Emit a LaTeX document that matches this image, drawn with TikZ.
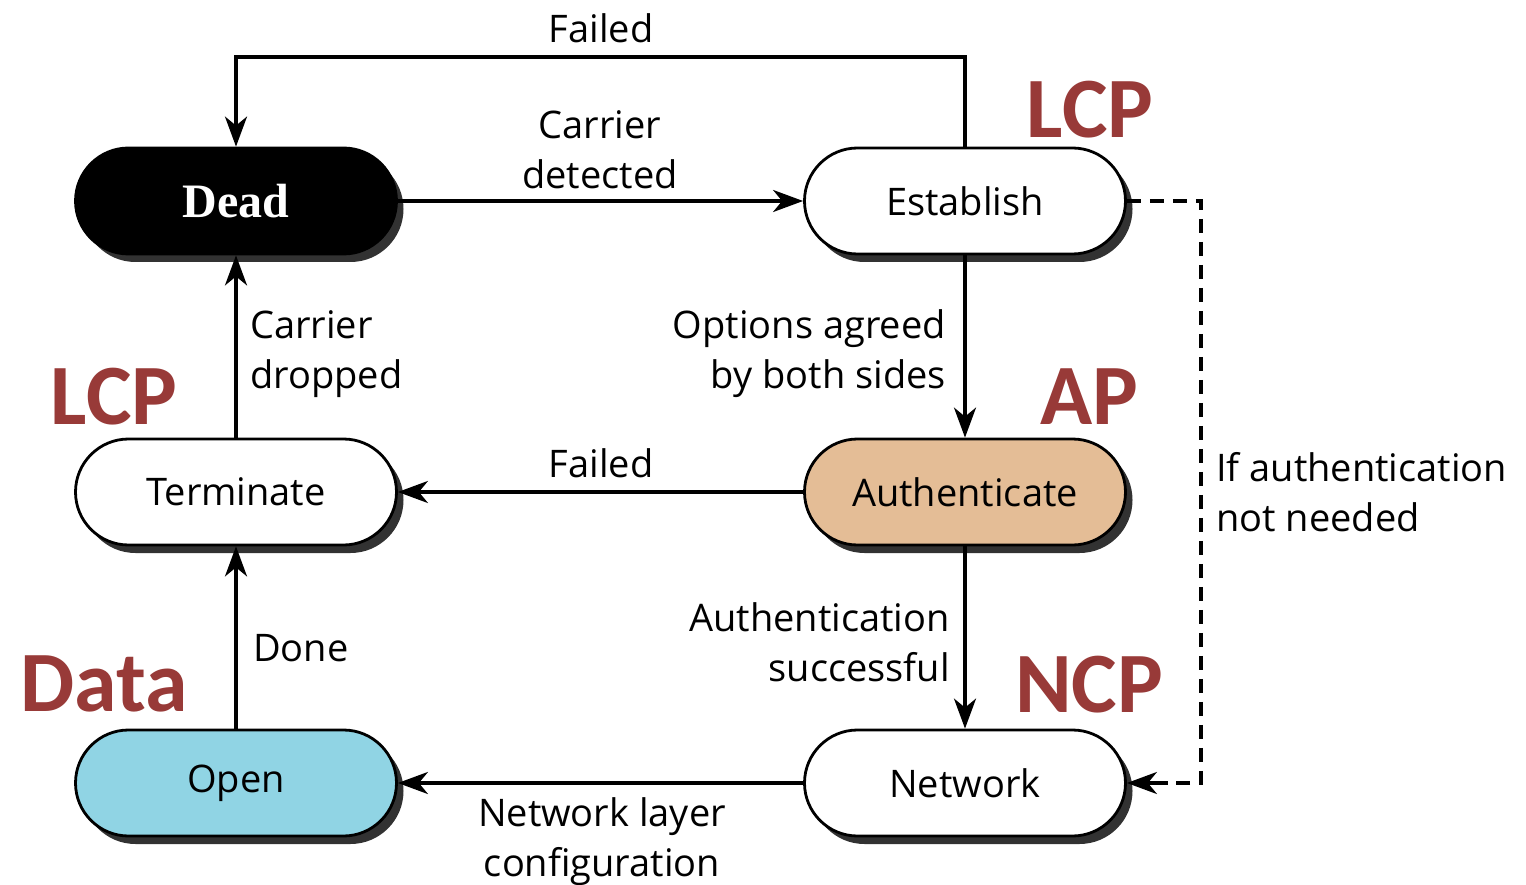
\documentclass[tikz,border=0pt]{standalone}
\usepackage{fontspec}
\setmainfont{Open Sans}
\newfontfamily\deadfont{Liberation Serif}
\newfontfamily\tagfont{Carlito}
\usetikzlibrary{shapes.misc,shadows,arrows.meta,calc}
\definecolor{tagred}{RGB}{152,58,56}
\definecolor{authfill}{RGB}{228,189,150}
\definecolor{openfill}{RGB}{144,212,228}
\definecolor{shadowgray}{RGB}{50,50,50}
\tikzset{
  state/.style={rounded rectangle, draw=black, line width=2.8pt, minimum width=321pt, minimum height=106pt,
    inner sep=0pt, font=\fontsize{38}{46}\selectfont,
    drop shadow={shadow xshift=7pt, shadow yshift=-8pt, fill=shadowgray, opacity=1}},
  lbl/.style={inner sep=0pt, font=\fontsize{38}{50}\selectfont},
  arr/.style={line width=3.4pt, -{Stealth[length=30pt,width=22pt,inset=9pt]}},
  tag/.style={inner sep=0pt, text=tagred, font=\tagfont\bfseries\fontsize{86}{90}\selectfont},
}
\begin{document}
\begin{tikzpicture}[x=1pt,y=-1pt]
\useasboundingbox (0,0) rectangle (1526,885);
% states
\node[state, fill=black, text=white, font=\deadfont\bfseries\fontsize{48}{50}\selectfont] (dead) at (236,201) {Dead};
\node[state, fill=white] (est) at (965,201) {Establish};
\node[state, fill=authfill] (auth) at (965,492) {Authenticate};
\node[state, fill=white] (term) at (236,492) {Terminate};
\node[state, fill=white] (net) at (965,783) {Network};
\node[state, fill=openfill] (open) at (236,783) {Open};
% coordinates
\coordinate (topline) at (600,57);
\coordinate (dashx) at (1201,202);
% connectors
\draw[arr] (est.north) |- (topline) -| (dead.north);
\draw[arr] (dead.east) -- (est.west);
\draw[arr] (est.south) -- (auth.north);
\draw[arr] (auth.west) -- (term.east);
\draw[arr] (auth.south) -- (net.north);
\draw[arr] (net.west) -- (open.east);
\draw[arr] (open.north) -- (term.south);
\draw[arr] (term.north) -- (dead.south);
\draw[line width=3.4pt, dash pattern=on 14pt off 9pt] (est.east) -- (est.east -| dashx) -- (net.east -| dashx) -- ([xshift=40pt]net.east);
\draw[arr] ([xshift=40pt]net.east) -- (net.east);
% labels
\node[lbl] (lfail1) at (601,28) {Failed};
\node[lbl, align=center] (lcarr) at (600,150) {Carrier\\detected};
\node[lbl, align=right, anchor=east] (lopt) at (946,354) {Options agreed\\by both sides};
\node[lbl, align=left, anchor=west] (ldrop) at (250,354) {Carrier\\dropped};
\node[lbl] (lfail2) at (601,463) {Failed};
\node[lbl, align=right, anchor=east] (lauth) at (950,642) {Authentication\\successful};
\node[lbl, anchor=west] (ldone) at (253,648) {Done};
\node[lbl, align=center] (lnet) at (602,842) {Network layer\\configuration};
\node[lbl, align=left, anchor=west] (lif) at (1216,492) {If authentication\\not needed};
% tags
\node[tag] (tlcp1) at (1090,110) {LCP};
\node[tag] (tlcp2) at (114,397) {LCP};
\node[tag] (tap) at (1089,397) {AP};
\node[tag] (tncp) at (1089,685) {NCP};
\node[tag] (tdata) at (104,684) {Data};
\end{tikzpicture}
\end{document}
